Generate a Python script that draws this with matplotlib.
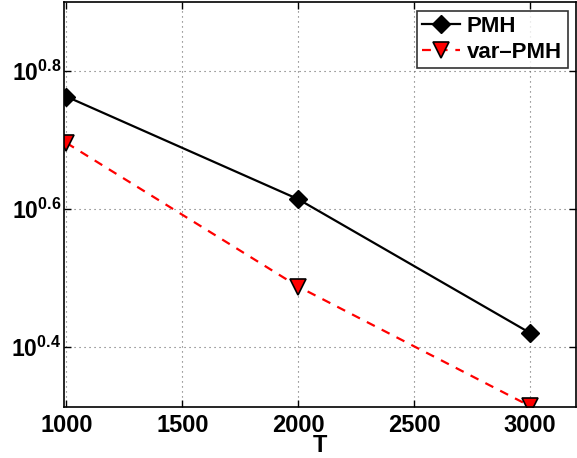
import matplotlib
matplotlib.use('Agg')
import matplotlib.pyplot as plt
import numpy as np

# datos
T = [1000, 2000, 3000]
pmh = [5.79, 4.11, 2.63]
var_pmh = [4.96, 3.07, 2.06]

XTICKS = [1000, 1500, 2000, 2500, 3000]
YEXP = [0.4, 0.6, 0.8]

plt.rcParams['font.family'] = 'Liberation Sans'
plt.rcParams['font.weight'] = 'bold'
plt.rcParams['mathtext.fontset'] = 'custom'
plt.rcParams['mathtext.rm'] = 'Liberation Sans:bold'
plt.rcParams['mathtext.bf'] = 'Liberation Sans:bold'

fig = plt.figure(figsize=(5.77, 4.58), dpi=100)
ax = fig.add_axes([0.111, 0.112, 0.888, 0.884])

ax.plot(T, pmh, '-', color='black', lw=1.6, marker='D', ms=9.5,
        mfc='black', mec='black', label='PMH')
ax.plot(T, var_pmh, '--', color='red', lw=1.6, marker='v', ms=11,
        mfc='red', mec='black', mew=1.2, label='var\u2013PMH', dashes=(4, 3.5))

ax.set_yscale('log')
ax.set_xlim(990, 3200)
ax.set_ylim(10 ** 0.313, 10 ** 0.9)
ax.set_xticks(XTICKS)
ax.set_xticklabels([str(x) for x in XTICKS], fontsize=17, fontweight='bold')
ax.set_yticks([10 ** e for e in YEXP])
ax.set_yticklabels([r'$\mathbf{10^{%.1f}}$' % e for e in YEXP], fontsize=16.5)
ax.minorticks_off()
ax.tick_params(direction='in', top=True, right=True, length=5, width=1)
ax.tick_params(axis='x', pad=5)
ax.tick_params(axis='y', pad=2)
ax.grid(True, linestyle=(0, (1, 3.5)), color='#666666', lw=0.8)
for s in ax.spines.values():
    s.set_linewidth(1.2)

ax.set_xlabel('T', fontsize=17, fontweight='bold', labelpad=-2)

leg = ax.legend(loc='upper right', fontsize=16, frameon=True, fancybox=False,
                edgecolor='black', handlelength=1.7, borderaxespad=0.4,
                handletextpad=0.3, borderpad=0.25, labelspacing=0.2)
leg.get_frame().set_linewidth(1.2)
for t in leg.get_texts():
    t.set_fontweight('bold')

plt.savefig('out.png', dpi=100)
plt.close()
